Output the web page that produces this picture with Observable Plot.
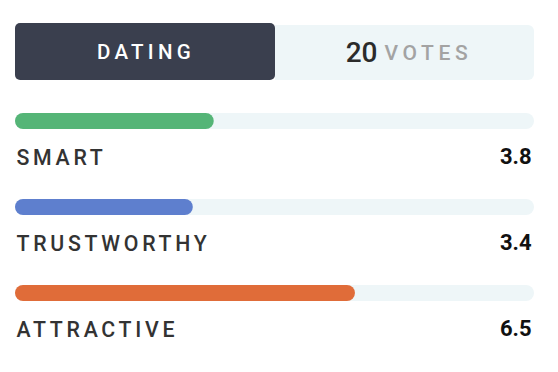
<!DOCTYPE html>
<html>
<head>
<meta charset="utf-8">
<script src="https://cdn.jsdelivr.net/npm/d3@7"></script>
<script src="https://cdn.jsdelivr.net/npm/@observablehq/plot@0.6"></script>
<style>
  html, body { margin: 0; padding: 0; background: #fff; font-family: Roboto, "Noto Sans", sans-serif; }
  #wrap { width: 558px; height: 372px; position: relative; overflow: hidden; }
  #header { position: absolute; left: 15px; top: 23px; width: 519px; height: 57px; display: flex; }
  #tab { width: 260px; height: 57px; background: #3a3f4e; border-radius: 5px; color: #fff;
         display: flex; align-items: center; justify-content: center;
         font-size: 20.5px; font-weight: 500; letter-spacing: 4.3px; padding-left: 2px; box-sizing: border-box; }
  #votes { width: 259px; height: 55px; margin-top: 2px; background: #eef6f8; border-radius: 0 6px 6px 0;
           display: flex; align-items: center; justify-content: center; padding-left: 9px; box-sizing: border-box; }
  #votes .n { font-size: 28px; font-weight: 500; color: #2b2b2b; margin-right: 7px; }
  #votes .t { font-size: 21px; font-weight: 500; color: #a3a3a3; letter-spacing: 4.6px; }
  #chart { position: absolute; left: 0; top: 95px; }
  .lbl text { letter-spacing: 3.7px; }
</style>
</head>
<body>
<div id="wrap">
  <div id="header"></div>
  <div id="chart"></div>
</div>
<script>
const title = "DATING";
const votes = 20;
const votesLabel = "VOTES";
const categories = ["SMART", "TRUSTWORTHY", "ATTRACTIVE"];
const values = [3.8, 3.4, 6.5];
const colors = ["#55b577", "#5e7fce", "#e06c39"];
const maxScore = 10;

document.getElementById("header").innerHTML =
  `<div id="tab">${title}</div><div id="votes"><span class="n">${votes}</span><span class="t">${votesLabel}</span></div>`;

const data = categories.map((c, i) => ({category: c, value: values[i], color: colors[i], max: maxScore}));

const plot = Plot.plot({
  width: 558,
  height: 277,
  margin: 0,
  style: {fontFamily: "Roboto, 'Noto Sans', sans-serif", background: "transparent"},
  x: {domain: [0, maxScore], range: [15, 538], axis: null},
  y: {type: "band", domain: categories, range: [18, 206], paddingInner: 70 / 86, paddingOuter: 0, round: false, axis: null},
  marks: [
    Plot.barX(data, {y: "category", x1: 0, x2: "max", fill: "#eef6f8", rx: 8, insetRight: 4}),
    Plot.barX(data, {y: "category", x1: 0, x2: "value", fill: "color", rx: 8}),
    Plot.text(data, {y: "category", x: 0, text: "category", textAnchor: "start", lineAnchor: "bottom", dy: 43,
      dx: 1, fontSize: 21.3, fontWeight: 500, fill: "#333", className: "lbl"}),
    Plot.text(data, {y: "category", x: "max", text: d => d.value.toFixed(1), textAnchor: "end", lineAnchor: "bottom", dy: 42,
      dx: -7, fontSize: 22, fontWeight: 700, fill: "#111"})
  ]
});
document.getElementById("chart").appendChild(plot);
</script>
</body>
</html>
